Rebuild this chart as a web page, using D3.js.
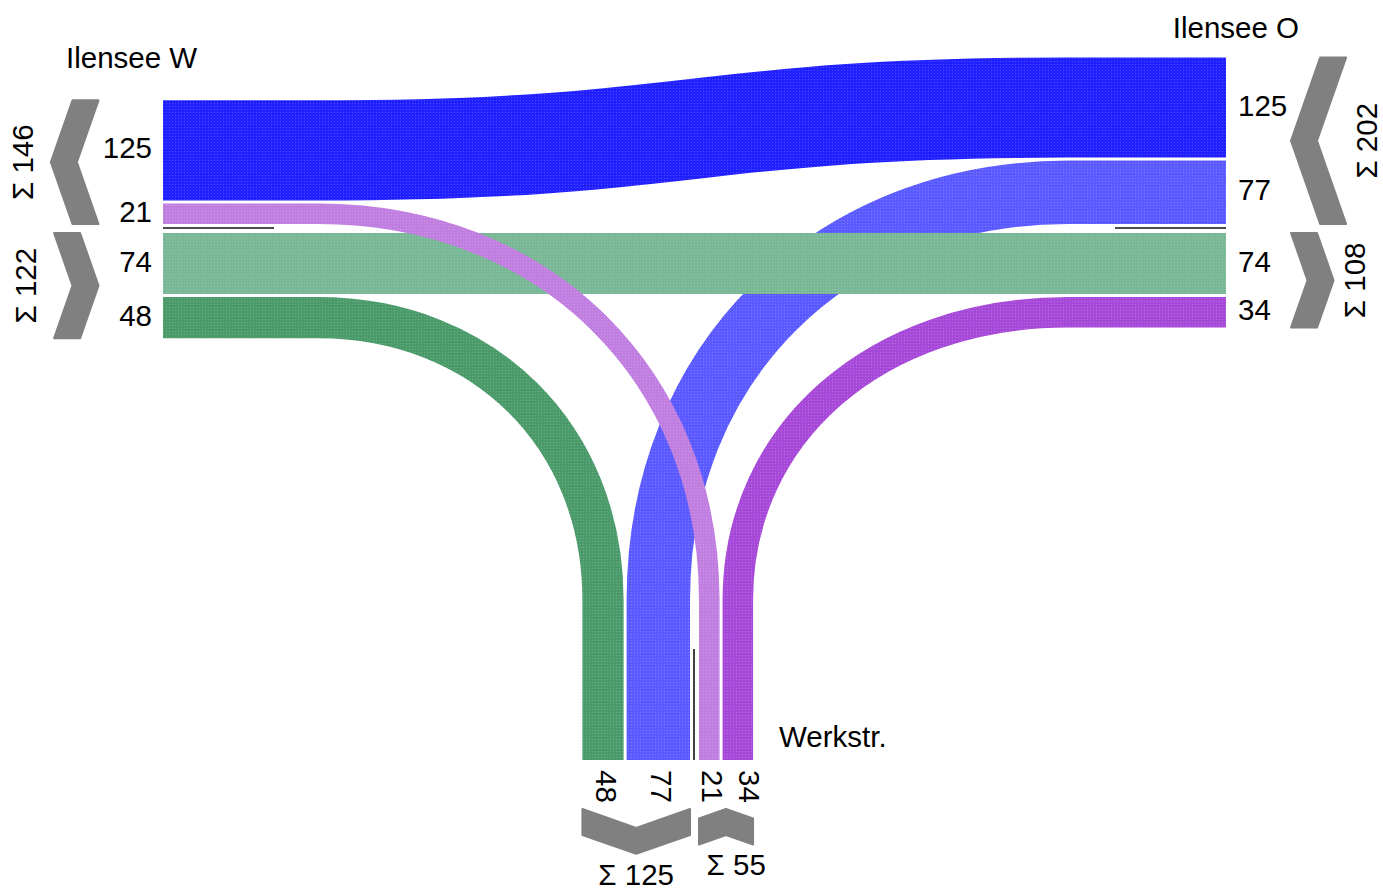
<!DOCTYPE html>
<html><head><meta charset="utf-8">
<script src="https://cdn.jsdelivr.net/npm/d3@7"></script>
<style>
body{margin:0;background:#fff;}
svg{display:block;}
text{font-family:"Liberation Sans",Arial,sans-serif;font-size:29.5px;fill:#000;}
</style>
</head><body>
<svg id="chart" width="1383" height="888"></svg>
<script>
// ---- data ----
const nodes = ["Ilensee W", "Ilensee O", "Werkstr."];
const flowFrom = ["Ilensee O", "Ilensee O", "Ilensee W", "Ilensee W", "Werkstr.", "Werkstr."];
const flowTo   = ["Ilensee W", "Werkstr.", "Ilensee O", "Werkstr.", "Ilensee W", "Ilensee O"];
const flowValues = [125, 77, 74, 48, 21, 34];
const flowColors = ["#2020ff", "#5a5aff", "#78b896", "#4a9a6a", "#c07ee0", "#a648d8"];
// lane order per arm (flow indices): [group before separator, group after separator]
const laneWest  = [[0, 4], [2, 3]];
const laneEast  = [[0, 1], [2, 5]];
const laneSouth = [[3, 1], [4, 5]];

// ---- layout ----
const svg = d3.select("#chart");
const defs = svg.append("defs");
flowColors.forEach((c, i) => {
  const p = defs.append("pattern").attr("id", "tex" + i).attr("width", 3).attr("height", 3)
    .attr("patternUnits", "userSpaceOnUse");
  p.append("rect").attr("width", 3).attr("height", 3).attr("fill", c);
  p.append("rect").attr("x", 1).attr("y", 1).attr("width", 1).attr("height", 1)
    .attr("fill", "#fff").attr("opacity", 0.2);
});

const wScale = d3.scaleLinear().domain([0, 125]).range([4.5, 100.1]);
const GAP = 3, SEP_BEFORE = 4, SEP_AFTER = 5;

const arms = {
  "Ilensee W": {orient: "west",  edge: 163,  inner: 318,  sep: 228, dir: [1, 0],  groups: laneWest,  chevBase: 98.5},
  "Ilensee O": {orient: "east",  edge: 1226, inner: 1068, sep: 228, dir: [-1, 0], groups: laneEast,  chevBase: 1291},
  "Werkstr.":  {orient: "south", edge: 760,  inner: 600,  sep: 694, dir: [0, -1], groups: laneSouth, chevBase: 809}
};

Object.values(arms).forEach(a => {
  a.lanes = {};
  let cur = a.sep - SEP_BEFORE;
  a.groups[0].slice().reverse().forEach(i => {
    const w = wScale(flowValues[i]);
    a.lanes[i] = {s0: cur - w, s1: cur, w};
    cur = cur - w - GAP;
  });
  cur = a.sep + SEP_AFTER;
  a.groups[1].forEach(i => {
    const w = wScale(flowValues[i]);
    a.lanes[i] = {s0: cur, s1: cur + w, w};
    cur += w + GAP;
  });
});

function pt(a, along, c) {
  return a.orient === "south" ? [c, along] : [along, c];
}

function flowPath(i) {
  const A = arms[flowFrom[i]], B = arms[flowTo[i]];
  const la = A.lanes[i], lb = B.lanes[i];
  const ca = (la.s0 + la.s1) / 2, cb = (lb.s0 + lb.s1) / 2;
  const Ao = pt(A, A.edge, ca), Ai = pt(A, A.inner, ca);
  const Bi = pt(B, B.inner, cb), Bo = pt(B, B.edge, cb);
  const opposite = A.dir[0] === -B.dir[0] && A.dir[1] === -B.dir[1];
  const k = opposite ? 0.5 : 0.58;
  const dx = Math.abs(Bi[0] - Ai[0]), dy = Math.abs(Bi[1] - Ai[1]);
  const offA = (A.dir[0] ? dx : dy) * k;
  const offB = (B.dir[0] ? dx : dy) * k;
  const c1 = [Ai[0] + A.dir[0] * offA, Ai[1] + A.dir[1] * offA];
  const c2 = [Bi[0] + B.dir[0] * offB, Bi[1] + B.dir[1] * offB];
  const p = d3.path();
  p.moveTo(Ao[0], Ao[1]);
  p.lineTo(Ai[0], Ai[1]);
  p.bezierCurveTo(c1[0], c1[1], c2[0], c2[1], Bi[0], Bi[1]);
  p.lineTo(Bo[0], Bo[1]);
  return p.toString();
}

// flows
svg.append("g").selectAll("path").data(flowValues).join("path")
  .attr("d", (d, i) => flowPath(i))
  .attr("fill", "none")
  .attr("stroke", (d, i) => `url(#tex${i})`)
  .attr("stroke-width", d => wScale(d))
  .attr("stroke-linecap", "butt");

// separator lines
Object.values(arms).forEach(a => {
  const L = 111;
  let x1, y1, x2, y2;
  if (a.orient === "west") { x1 = a.edge; x2 = a.edge + L; y1 = y2 = a.sep; }
  else if (a.orient === "east") { x1 = a.edge - L; x2 = a.edge; y1 = y2 = a.sep; }
  else { x1 = x2 = a.sep; y1 = a.edge - L; y2 = a.edge; }
  svg.append("line").attr("x1", x1).attr("y1", y1).attr("x2", x2).attr("y2", y2)
    .attr("stroke", "#111").attr("stroke-width", 1.6);
});

// chevrons, sums and value labels
function mapDS(a, d, s) {
  if (a.orient === "west") return [a.chevBase - d, s];
  if (a.orient === "east") return [a.chevBase + d, s];
  return [s, a.chevBase + d];
}

const T = 26;
nodes.forEach(n => {
  const a = arms[n];
  let prevSumX = -1e9;
  a.groups.forEach(g => {
    const s0 = d3.min(g, i => a.lanes[i].s0), s1 = d3.max(g, i => a.lanes[i].s1);
    const mid = (s0 + s1) / 2, half = (s1 - s0) / 2;
    const rise = 0.35 * half, depth = T + rise;
    const away = g.every(i => flowTo[i] === n);
    const pts = away
      ? [[0, s0], [T, s0], [depth, mid], [T, s1], [0, s1], [rise, mid]]
      : [[depth, s0], [rise, s0], [0, mid], [rise, s1], [depth, s1], [T, mid]];
    svg.append("path")
      .attr("d", d3.line()(pts.map(p => mapDS(a, p[0], p[1]))) + "Z")
      .attr("fill", "#808080").attr("stroke", "#808080").attr("stroke-width", 2)
      .attr("stroke-linejoin", "round");
    const sum = d3.sum(g, i => flowValues[i]);
    const label = "Σ " + sum;
    if (a.orient === "west") {
      const x = a.chevBase - depth - 18;
      svg.append("text").attr("transform", `translate(${x},${mid}) rotate(-90)`)
        .attr("text-anchor", "middle").text(label);
    } else if (a.orient === "east") {
      const x = a.chevBase + depth + 31;
      svg.append("text").attr("transform", `translate(${x},${mid}) rotate(-90)`)
        .attr("text-anchor", "middle").text(label);
    } else {
      const x = Math.max(mid, prevSumX + 100);
      prevSumX = x;
      svg.append("text").attr("x", x).attr("y", a.chevBase + depth + 31)
        .attr("text-anchor", "middle").text(label);
    }
  });

  // value labels
  const order = a.groups[0].concat(a.groups[1]);
  let prevX = -1e9;
  order.forEach(i => {
    const l = a.lanes[i], c = (l.s0 + l.s1) / 2;
    if (a.orient === "west") {
      svg.append("text").attr("x", a.edge - 11).attr("y", c + 8)
        .attr("text-anchor", "end").text(flowValues[i]);
    } else if (a.orient === "east") {
      svg.append("text").attr("x", a.edge + 12).attr("y", c + 8)
        .attr("text-anchor", "start").text(flowValues[i]);
    } else {
      const cx = Math.max(c + 3, prevX + 37);
      prevX = cx;
      svg.append("text").attr("transform", `translate(${cx - 10},${a.edge + 10}) rotate(90)`)
        .attr("text-anchor", "start").text(flowValues[i]);
    }
  });
});

// node names
const W = arms["Ilensee W"], O = arms["Ilensee O"], S = arms["Werkstr."];
svg.append("text").attr("x", 66).attr("y", d3.min(Object.values(W.lanes), l => l.s0) - 32)
  .attr("text-anchor", "start").text(nodes[0]);
svg.append("text").attr("x", 1299).attr("y", d3.min(Object.values(O.lanes), l => l.s0) - 20)
  .attr("text-anchor", "end").text(nodes[1]);
svg.append("text").attr("x", d3.max(Object.values(S.lanes), l => l.s1) + 26).attr("y", S.edge - 13)
  .attr("text-anchor", "start").text(nodes[2]);
</script>
</body></html>
